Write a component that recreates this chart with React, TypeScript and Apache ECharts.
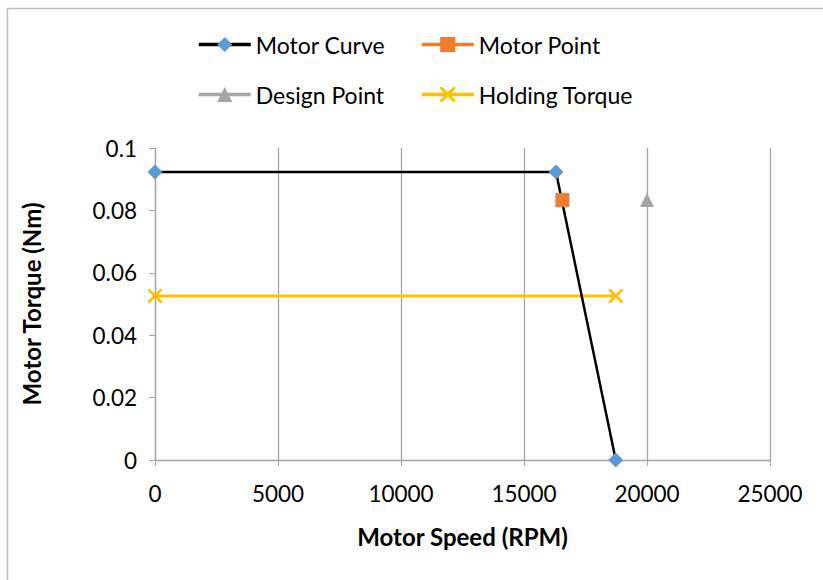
import React, { useEffect, useRef } from "react";
import * as echarts from "echarts";

// Motor torque-speed curve (RPM, Nm)
const motorCurveSpeed = [0, 16300, 18730];
const motorCurveTorque = [0.0923, 0.0923, 0];

const motorPointSpeed = [16560];
const motorPointTorque = [0.0833];

const designPointSpeed = [20000];
const designPointTorque = [0.0833];

const holdingSpeed = [0, 18730];
const holdingTorque = [0.0526, 0.0526];

const xTicks = { min: 0, max: 25000, interval: 5000 };
const yTicks = { min: 0, max: 0.1, interval: 0.02 };

const FONT = "Lato, 'Open Sans', sans-serif";
const CROSS =
  "path://M0,0L1.4,0L5,3.6L8.6,0L10,0L10,1.4L6.4,5L10,8.6L10,10L8.6,10L5,6.4L1.4,10L0,10L0,8.6L3.6,5L0,1.4Z";

const zip = (xs: number[], ys: number[]) => xs.map((x, i) => [x, ys[i]]);

export default function App() {
  const ref = useRef<HTMLDivElement>(null);

  useEffect(() => {
    if (!ref.current) return;
    const chart = echarts.init(ref.current, null, { renderer: "svg" });
    const legendText = { fontFamily: FONT, fontSize: 23, color: "#000" };
    const legendBase = {
      itemWidth: 52,
      itemHeight: 19,
      itemGap: 6,
      textStyle: legendText,
      lineStyle: { width: 3.5 },
      padding: 0,
    };
    const titleStyle = { fontFamily: FONT, fontSize: 24, fontWeight: "bold", color: "#000" };
    chart.setOption({
      animation: false,
      backgroundColor: "#fff",
      graphic: [
        {
          type: "rect",
          shape: { x: 7.5, y: 8.5, width: 900, height: 700 },
          style: { fill: "none", stroke: "#BFBFBF", lineWidth: 1.5 },
          silent: true,
        },
      ],
      legend: [
        { ...legendBase, data: ["Motor Curve"], left: 197, top: 33 },
        { ...legendBase, data: ["Motor Point"], left: 420, top: 33 },
        { ...legendBase, data: ["Design Point"], left: 197, top: 83 },
        { ...legendBase, data: ["Holding Torque"], left: 420, top: 83 },
      ],
      grid: { left: 155, right: 53, top: 148, bottom: 120 },
      xAxis: {
        type: "value",
        ...xTicks,
        name: "Motor Speed (RPM)",
        nameLocation: "middle",
        nameGap: 64,
        nameTextStyle: titleStyle,
        axisLine: { show: true, lineStyle: { color: "#A6A6A6", width: 1.3 } },
        axisTick: { show: true, length: 6, lineStyle: { color: "#A6A6A6" } },
        axisLabel: {
          fontFamily: FONT,
          fontSize: 22.5,
          color: "#000",
          margin: 22,
          formatter: (v: number) => String(v),
        },
        splitLine: { show: true, lineStyle: { color: "#A6A6A6", width: 1.3 } },
      },
      yAxis: {
        type: "value",
        ...yTicks,
        name: "Motor Torque (Nm)",
        nameLocation: "middle",
        nameGap: 112,
        nameTextStyle: titleStyle,
        axisLine: { show: true, lineStyle: { color: "#A6A6A6", width: 1.3 } },
        axisTick: { show: true, length: 6, lineStyle: { color: "#A6A6A6" } },
        axisLabel: {
          fontFamily: FONT,
          fontSize: 22.5,
          color: "#000",
          margin: 18,
          formatter: (v: number) => String(+v.toFixed(2)),
        },
        splitLine: { show: false },
      },
      series: [
        {
          name: "Motor Curve",
          type: "line",
          data: zip(motorCurveSpeed, motorCurveTorque),
          symbol: "diamond",
          symbolSize: 15,
          lineStyle: { color: "#000", width: 2.5 },
          itemStyle: { color: "#5B9BD5" },
          z: 4,
        },
        {
          name: "Motor Point",
          type: "line",
          data: zip(motorPointSpeed, motorPointTorque),
          symbol: "rect",
          symbolSize: 14,
          lineStyle: { color: "#ED7D31", width: 3 },
          itemStyle: { color: "#ED7D31" },
          z: 5,
        },
        {
          name: "Design Point",
          type: "line",
          data: zip(designPointSpeed, designPointTorque),
          symbol: "triangle",
          symbolSize: 14,
          lineStyle: { color: "#A5A5A5", width: 3 },
          itemStyle: { color: "#A5A5A5" },
          z: 5,
        },
        {
          name: "Holding Torque",
          type: "line",
          data: zip(holdingSpeed, holdingTorque),
          symbol: CROSS,
          symbolSize: 14,
          lineStyle: { color: "#FFC000", width: 3 },
          itemStyle: { color: "#FFC000" },
          z: 3,
        },
      ],
    });
    return () => chart.dispose();
  }, []);

  return (
    <div
      ref={ref}
      style={{ position: "absolute", left: 0, top: 0, width: 823, height: 580 }}
    />
  );
}
